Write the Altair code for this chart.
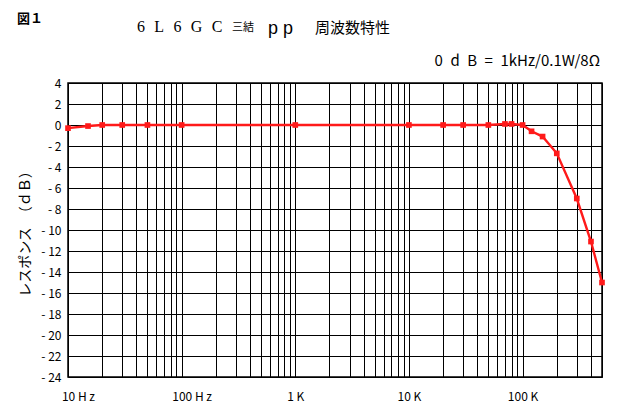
import altair as alt
import pandas as pd

freq = [10, 15, 20, 30, 50, 100, 1000, 10000, 20000, 30000, 50000, 70000, 80000,
        100000, 120000, 150000, 200000, 300000, 400000, 500000]
resp = [-0.3, -0.1, 0, 0, 0, 0, 0, 0, 0, 0, 0, 0.1, 0.1,
        0, -0.6, -1.1, -2.7, -7.0, -11.1, -15.0]

grid_x = [m * 10 ** e for e in range(1, 6) for m in range(1, 10) if m * 10 ** e <= 500000]
grid_y = list(range(-24, 5, 2))

fig_label = "図１"
title_a = "6\u2002\u200aL\u2002\u200a6\u2002\u200aG\u2002\u200aC"
title_b = "三結"
title_c = "p p"
title_d = "周波数特性"
subtitle = "0\u2002d\u2002B\u2002=\u20021kHz/0.1W/8Ω"
y_title = "レスポンス　（ｄＢ）"

df = pd.DataFrame({"f": freq, "db": resp})

label_expr = ("datum.value == 10 ? '10 H z' : datum.value == 100 ? '100 H z' : "
              "datum.value == 1000 ? '1 K' : datum.value == 10000 ? '10 K' : "
              "datum.value == 100000 ? '100 K' : ''")

x = alt.X("f:Q", scale=alt.Scale(type="log", domain=[10, 500000], nice=False),
          axis=alt.Axis(values=grid_x, labelExpr=label_expr, title=None,
                        grid=True, gridColor="black", gridOpacity=1, gridWidth=1,
                        ticks=False, domain=False, labelPadding=14,
                        labelFont="Noto Sans CJK JP", labelFontSize=12,
                        labelColor="black", labelFlush=False,
                        labelOffset=alt.ExprRef("datum.value < 1000 ? 10 : 0")))
y = alt.Y("db:Q", scale=alt.Scale(domain=[-24, 4], nice=False),
          axis=alt.Axis(values=grid_y, title=y_title,
                        labelExpr="datum.value < 0 ? '- ' + abs(datum.value) : '' + datum.value",
                        grid=True, gridColor="black", gridOpacity=1, gridWidth=1,
                        ticks=False, domain=False, labelPadding=7,
                        labelFont="Noto Sans CJK JP", labelFontSize=12, labelColor="black",
                        titleFont="Noto Sans CJK JP", titleFontSize=14, titleFontWeight="normal",
                        titleColor="black", titlePadding=8))

line = alt.Chart(df).mark_line(color="#ff1a1a", strokeWidth=2.4).encode(x=x, y=y)
pts = alt.Chart(df).mark_point(shape="square", filled=True, color="#ff1a1a",
                               size=32, opacity=1).encode(x=x, y=y)

def txt(s, xp, yp, size, font="Noto Sans CJK JP", weight="normal", align="left",
        baseline="middle"):
    return alt.Chart(pd.DataFrame({"t": [s]})).mark_text(
        font=font, fontSize=size, fontWeight=weight, align=align, baseline=baseline,
        color="black").encode(text="t:N", x=alt.value(xp), y=alt.value(yp))

texts = [
    txt(fig_label, -51, -64, 13, weight="bold"),
    txt(title_a, 69, -51, 16, font="Liberation Serif", baseline="alphabetic"),
    txt(title_b, 164, -55, 11),
    txt(title_c, 200, -49, 18, font="Liberation Sans", baseline="alphabetic"),
    txt(title_d, 247, -55, 15),
    txt(subtitle, 532, -22, 15, align="right"),
]

chart = alt.layer(line, pts, *texts).properties(
    width=534, height=294,
    autosize=alt.AutoSizeParams(type="none"),
    padding={"left": 60, "top": 75, "right": 10, "bottom": 35},
    background="white",
).configure_view(stroke="black", strokeWidth=1.5)

chart.save("out.html", embed_options={"renderer": "svg", "actions": False})
